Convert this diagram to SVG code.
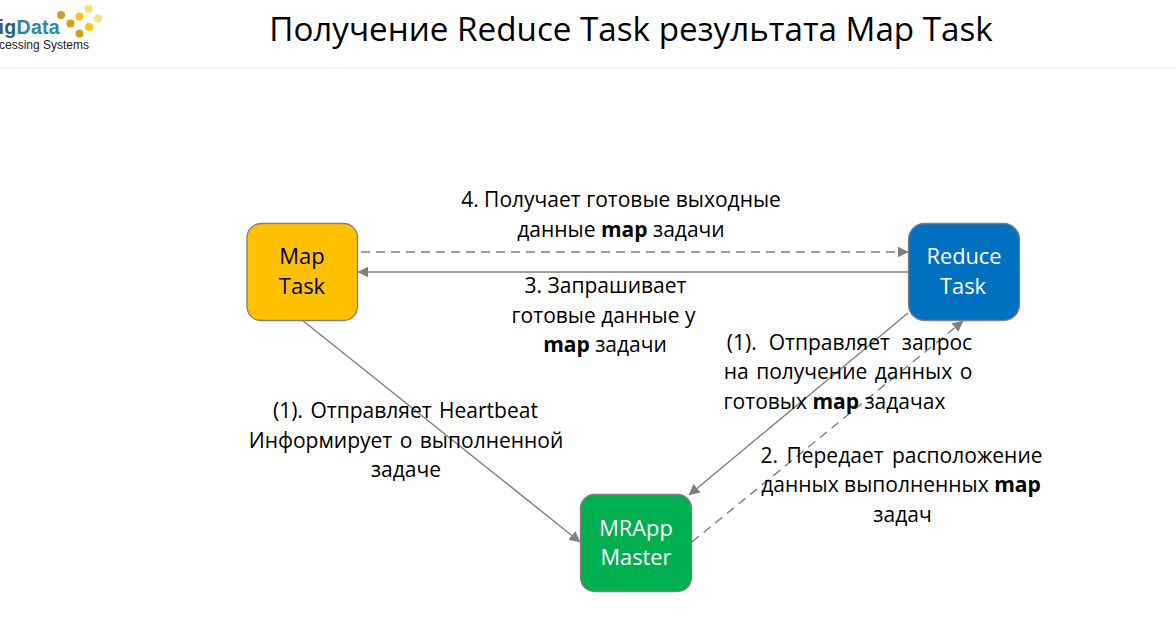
<svg xmlns="http://www.w3.org/2000/svg" width="1176" height="642" viewBox="0 0 1176 642">
<style>
text{font-family:"Open Sans","Noto Sans","Liberation Sans",sans-serif;font-size:21px;fill:#000;text-anchor:middle}
.w{fill:#fff;font-size:21.8px}.k{font-size:22px}
.c{fill:none;stroke:#7f7f7f;stroke-width:1.4}
.d{stroke-dasharray:9 6}
.n{stroke:#7f7f7f;stroke-width:1.3}
.b{font-weight:700}
.lg{font-family:"Liberation Sans",Arial,sans-serif;text-anchor:end}
</style>
<defs><marker id="a" viewBox="0 0 10 10" refX="9.500" refY="5" markerWidth="11" markerHeight="11" markerUnits="userSpaceOnUse" orient="auto"><path d="M0 0L10 5L0 10z" fill="#7f7f7f"/></marker></defs>
<rect width="1176" height="642" fill="#fff"/>
<g id="header">
<rect x="0" y="67" width="1176" height="1.500" fill="#f0f0f0"/>
<text x="631" y="41" style="font-size:33.200px">Получение Reduce Task результата Map Task</text>
<text class="lg" x="60" y="34" style="font-size:19.500px;font-weight:700;fill:#2a86aa;letter-spacing:.3px"><tspan fill="#1d5f80">ig</tspan>Data</text>
<text class="lg" x="89" y="49" style="font-size:12px;fill:#222">cessing Systems</text>
<circle cx="61" cy="15" r="4" fill="#d4a017"/><circle cx="70.500" cy="23.500" r="4" fill="#d4a017"/><circle cx="79.500" cy="16.500" r="4" fill="#fcc419"/><circle cx="88.500" cy="9" r="4" fill="#fedd80"/><circle cx="98" cy="18.500" r="4" fill="#fedd80"/><circle cx="89" cy="27" r="4" fill="#fcc419"/><circle cx="79.500" cy="33.500" r="4" fill="#d4a017"/>
</g>
<g id="connectors">
<path class="c d" d="M361 252H908" marker-end="url(#a)"/>
<path class="c" d="M908 272H358" marker-end="url(#a)"/>
<path class="c" d="M302 320L580 542" marker-end="url(#a)"/>
<path class="c" d="M908 313L689 495" marker-end="url(#a)"/>
<path class="c d" d="M692 542L963 321" marker-end="url(#a)"/>
</g>
<g id="map-task"><rect class="n" x="247" y="223.500" width="110.500" height="97" rx="14" fill="#ffc000"/><text class="k" x="302" y="264">Map</text><text class="k" x="302" y="294">Task</text></g>
<g id="reduce-task"><rect class="n" x="908.500" y="223.500" width="111" height="97" rx="16" fill="#0070c0"/><text class="w" x="964" y="264">Reduce</text><text class="w" x="963" y="294">Task</text></g>
<g id="mrapp-master"><rect class="n" x="580.500" y="494.500" width="111" height="97" rx="14" fill="#00b050"/><text class="w" x="636" y="536">MRApp</text><text class="w" x="636" y="565">Master</text></g>
<g id="labels">
<text x="621" y="207">4. Получает готовые выходные</text>
<text x="621" y="237">данные <tspan class="b">map</tspan> задачи</text>
<text x="605.500" y="293">3. Запрашивает</text>
<text x="603.500" y="323">готовые данные у</text>
<text x="605" y="352"><tspan class="b">map</tspan> задачи</text>
<text x="405.500" y="418" word-spacing="2">(1). Отправляет Heartbeat</text>
<text x="406" y="448" word-spacing="2">Информирует о выполненной</text>
<text x="406" y="477">задаче</text>
<text x="849.500" y="350" word-spacing="6.500">(1). Отправляет запрос</text>
<text x="848" y="379" word-spacing="2">на получение данных о</text>
<text x="834.500" y="409">готовых <tspan class="b">map</tspan> задачах</text>
<text x="901.500" y="463" word-spacing="3">2. Передает расположение</text>
<text x="901" y="492">данных выполненных <tspan class="b">map</tspan></text>
<text x="902.500" y="522">задач</text>
</g>
</svg>
